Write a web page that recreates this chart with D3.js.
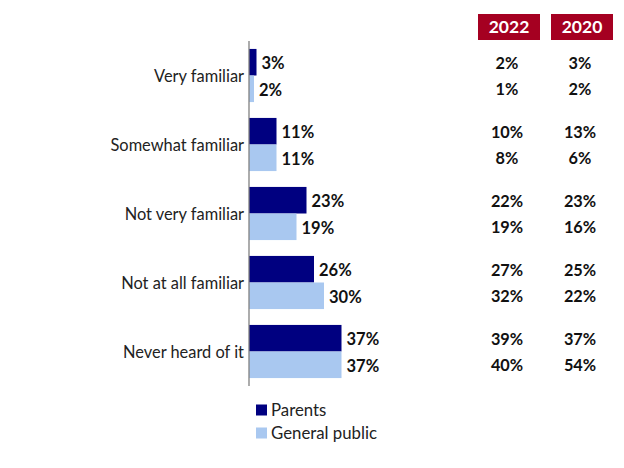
<!DOCTYPE html>
<html><head><meta charset="utf-8">
<script src="https://cdn.jsdelivr.net/npm/d3@7"></script>
<style>body{margin:0;background:#fff;}svg{display:block;font-family:Lato,"Open Sans",sans-serif;}</style>
</head><body><svg id="c" width="624" height="468"></svg>
<script>
const categories = ["Very familiar","Somewhat familiar","Not very familiar","Not at all familiar","Never heard of it"];
const seriesNames = ["Parents","General public"];
const parents = [3,11,23,26,37];
const generalPublic = [2,11,19,30,37];
const years = ["2022","2020"];
const parents2022 = [2,10,22,27,39];
const public2022 = [1,8,19,32,40];
const parents2020 = [3,13,23,25,37];
const public2020 = [2,6,16,22,54];
const colors = ["#000080","#A9C8F0"];

const svg = d3.select("#c");
const x0 = 249;
const x = d3.scaleLinear().domain([0,37]).range([x0, 341.5]);
const y = d3.scaleBand().domain(categories).range([41,386]).paddingInner(0.23).paddingOuter(0.115);
const ys = d3.scaleBand().domain(seriesNames).range([0,y.bandwidth()]);
const series = [parents, generalPublic];

// category labels
svg.append("g").selectAll("text").data(categories).join("text")
  .attr("x",244).attr("y",d=>y(d)+y.bandwidth()/2+1).attr("dy","0.35em")
  .attr("text-anchor","end").attr("font-size",16.4).attr("fill","#222").text(d=>d);

// bars
series.forEach((vals,si)=>{
  const g = svg.append("g");
  g.selectAll("rect").data(categories).join("rect")
    .attr("x",x0).attr("y",(d)=>y(d)+ys(seriesNames[si]))
    .attr("width",(d,i)=>x(vals[i])-x0).attr("height",ys.bandwidth())
    .attr("fill",colors[si]);
  g.selectAll("text").data(categories).join("text")
    .attr("x",(d,i)=>x(vals[i])+5).attr("y",d=>y(d)+ys(seriesNames[si])+ys.bandwidth()/2+1)
    .attr("dy","0.35em").attr("font-size",16.5).attr("font-weight","bold").attr("fill","#111")
    .text((d,i)=>vals[i]+"%");
});

// axis line
svg.append("line").attr("x1",x0).attr("x2",x0).attr("y1",41).attr("y2",386)
  .attr("stroke","#808080").attr("stroke-width",1.3);

// year headers
const colX = d3.scaleOrdinal().domain(years).range([509,582]);
years.forEach(yr=>{
  svg.append("rect").attr("x",colX(yr)-31).attr("y",14).attr("width",62).attr("height",26).attr("fill","#A50021");
  svg.append("text").attr("x",colX(yr)).attr("y",27).attr("dy","0.35em").attr("text-anchor","middle")
    .attr("font-size",17.5).attr("font-weight","bold").attr("fill","#fff").text(yr);
});
const table = {"2022":[parents2022,public2022],"2020":[parents2020,public2020]};
years.forEach(yr=>{
  table[yr].forEach((vals,si)=>{
    svg.append("g").selectAll("text").data(categories).join("text")
      .attr("x",colX(yr)-2).attr("y",d=>y(d)+ys(seriesNames[si])+ys.bandwidth()/2+1).attr("dy","0.35em")
      .attr("text-anchor","middle").attr("font-size",16.3).attr("font-weight","bold").attr("fill","#111")
      .text((d,i)=>vals[i]+"%");
  });
});

// legend
seriesNames.forEach((n,i)=>{
  const ly = 410 + i*23;
  svg.append("rect").attr("x",256).attr("y",ly-5.5).attr("width",11).attr("height",11).attr("fill",colors[i]);
  svg.append("text").attr("x",271).attr("y",ly+0.5).attr("dy","0.35em").attr("font-size",16.8).attr("fill","#222").text(n);
});
</script></body></html>
